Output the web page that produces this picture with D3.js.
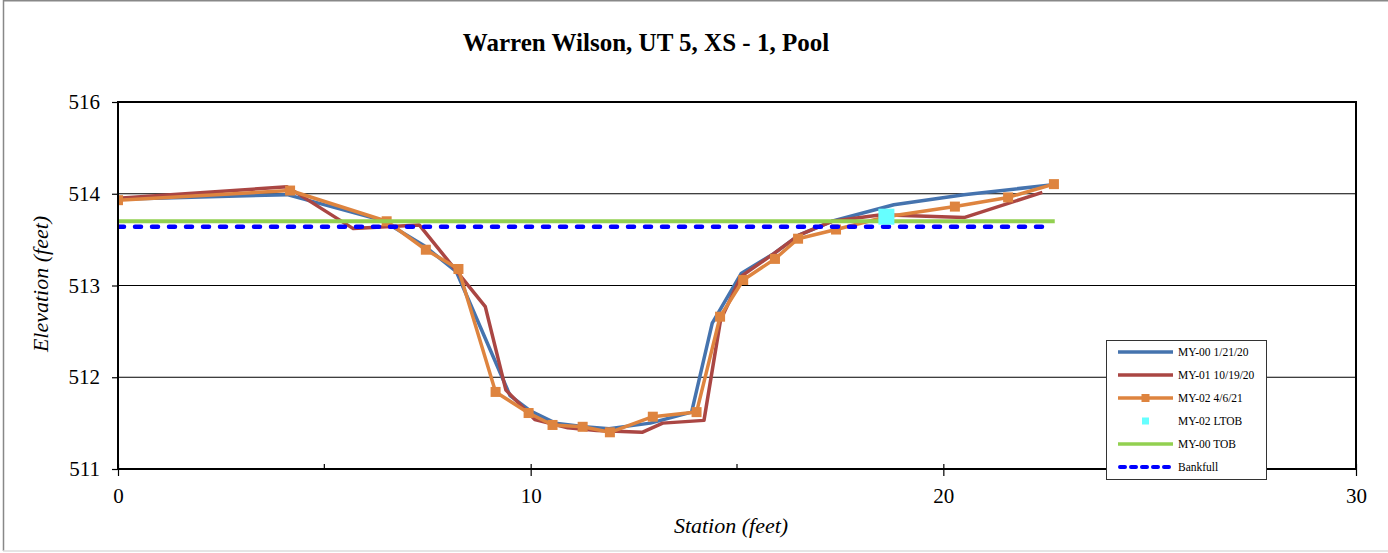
<!DOCTYPE html>
<html>
<head>
<meta charset="utf-8">
<script src="https://cdn.jsdelivr.net/npm/d3@7"></script>
<style>
  html, body { margin: 0; padding: 0; background: #fff; }
  svg { display: block; }
</style>
</head>
<body>
<svg id="chart" width="1388" height="553"></svg>
<script>
// ---------- data ----------
const title = "Warren Wilson, UT 5, XS - 1, Pool";
const xLabel = "Station (feet)";
const yLabel = "Elevation (feet)";

const xTicks = [0, 10, 20, 30];
const xMinorTicks = [5, 15, 25];
const yTicks = [511, 512, 513, 514, 516];
const yTickLabels = ["511", "512", "513", "514", "516"];

// MY-00 1/21/20
const my00Station = [0, 4.1, 6.4, 7.4, 8.2, 9.5, 10.0, 10.6, 11.3, 11.9, 12.9, 13.9, 14.4, 15.1, 15.9, 16.5, 17.3, 18.8, 20.5, 22.6];
const my00Elev    = [513.94, 513.99, 513.71, 513.44, 513.15, 511.80, 511.63, 511.50, 511.46, 511.44, 511.50, 511.62, 512.59, 513.13, 513.35, 513.55, 513.70, 513.88, 513.99, 514.19];

// MY-01 10/19/20
const my01Station = [0, 4.1, 5.7, 7.3, 8.9, 9.4, 10.1, 10.9, 11.6, 12.7, 13.2, 14.2, 14.6, 15.1, 15.9, 16.5, 17.3, 18.5, 20.5, 22.4];
const my01Elev    = [513.95, 514.15, 513.62, 513.66, 512.77, 511.86, 511.54, 511.45, 511.42, 511.40, 511.50, 511.53, 512.62, 513.10, 513.35, 513.55, 513.70, 513.77, 513.74, 514.03];

// MY-02 4/6/21
const my02Station = [0, 4.17, 6.51, 7.46, 8.25, 9.15, 9.95, 10.53, 11.26, 11.92, 12.96, 14.02, 14.59, 15.15, 15.92, 16.48, 17.4, 18.62, 20.28, 21.57, 22.68];
const my02Elev    = [513.93, 514.07, 513.70, 513.39, 513.18, 511.84, 511.61, 511.48, 511.46, 511.40, 511.57, 511.62, 512.66, 513.06, 513.29, 513.51, 513.61, 513.75, 513.86, 513.96, 514.21];

// MY-02 LTOB
const ltobStation = [18.62];
const ltobElev = [513.75];

// MY-00 TOB
const tobStation = [0, 22.7];
const tobElev = [513.70, 513.70];

// Bankfull
const bkfStation = [0, 22.6];
const bkfElev = [513.64, 513.64];

const legendLabels = ["MY-00 1/21/20", "MY-01 10/19/20", "MY-02 4/6/21", "MY-02 LTOB", "MY-00 TOB", "Bankfull"];

// ---------- styles ----------
const FONT = "'Liberation Serif', 'Times New Roman', Times, serif";
const C = {
  blue: "#4573AE", red: "#AA4643", orange: "#DE843F",
  cyan: "#66FFFF", green: "#92D050", bkf: "#0000FF"
};

const svg = d3.select("#chart");
const W = 1388;
const plot = { left: 118, right: 1356, top: 102, bottom: 469 };

// outer border
svg.append("line").attr("x1", 3.5).attr("x2", 3.5).attr("y1", 0).attr("y2", 551)
  .attr("stroke", "#888").attr("stroke-width", 1.5);
svg.append("line").attr("x1", 3).attr("x2", W).attr("y1", 0.75).attr("y2", 0.75)
  .attr("stroke", "#888").attr("stroke-width", 1.5);
svg.append("line").attr("x1", 3).attr("x2", W).attr("y1", 551).attr("y2", 551)
  .attr("stroke", "#ddd").attr("stroke-width", 1.5);

const x = d3.scaleLinear().domain([0, 30]).range([plot.left, plot.right]);
// polylinear scale reproducing the evenly spaced labelled gridlines
const y = d3.scaleLinear().domain(yTicks)
  .range(yTicks.map((d, i) => plot.bottom - i * (plot.bottom - plot.top) / (yTicks.length - 1)));

// gridlines
svg.append("g").selectAll("line").data(yTicks.slice(1, -1)).join("line")
  .attr("x1", plot.left).attr("x2", plot.right)
  .attr("y1", d => y(d)).attr("y2", d => y(d))
  .attr("stroke", "#000").attr("stroke-width", 1);

// clip
svg.append("clipPath").attr("id", "clip").append("rect")
  .attr("x", plot.left).attr("y", plot.top)
  .attr("width", plot.right - plot.left).attr("height", plot.bottom - plot.top);

const g = svg.append("g").attr("clip-path", "url(#clip)");
const zip = (xs, ys) => xs.map((s, i) => [s, ys[i]]);
const line = d3.line().x(d => x(d[0])).y(d => y(d[1]));

g.append("path").datum(zip(my00Station, my00Elev)).attr("d", line)
  .attr("fill", "none").attr("stroke", C.blue).attr("stroke-width", 3.5).attr("stroke-linejoin", "round");
g.append("path").datum(zip(my01Station, my01Elev)).attr("d", line)
  .attr("fill", "none").attr("stroke", C.red).attr("stroke-width", 3.5).attr("stroke-linejoin", "round");
g.append("path").datum(zip(my02Station, my02Elev)).attr("d", line)
  .attr("fill", "none").attr("stroke", C.orange).attr("stroke-width", 3.5).attr("stroke-linejoin", "round");
g.append("g").selectAll("rect").data(zip(my02Station, my02Elev)).join("rect")
  .attr("x", d => x(d[0]) - 5).attr("y", d => y(d[1]) - 5)
  .attr("width", 10).attr("height", 10).attr("fill", C.orange);

g.append("path").datum(zip(tobStation, tobElev)).attr("d", line)
  .attr("fill", "none").attr("stroke", C.green).attr("stroke-width", 4);
g.append("path").datum(zip(bkfStation, bkfElev)).attr("d", line)
  .attr("fill", "none").attr("stroke", C.bkf).attr("stroke-width", 4.5)
  .attr("stroke-linecap", "round").attr("stroke-dasharray", "6,11");

g.append("g").selectAll("rect").data(zip(ltobStation, ltobElev)).join("rect")
  .attr("x", d => x(d[0]) - 8).attr("y", d => y(d[1]) - 8)
  .attr("width", 16).attr("height", 16).attr("fill", C.cyan);

// plot border
svg.append("rect").attr("x", plot.left).attr("y", plot.top)
  .attr("width", plot.right - plot.left).attr("height", plot.bottom - plot.top)
  .attr("fill", "none").attr("stroke", "#000").attr("stroke-width", 2);

// y axis
const yAxis = d3.axisLeft(y).tickValues(yTicks).tickSize(6).tickPadding(12)
  .tickFormat((d, i) => yTickLabels[i]);
const ya = svg.append("g").attr("transform", `translate(${plot.left},0)`).call(yAxis);
ya.attr("font-family", FONT);
ya.select(".domain").remove();
ya.selectAll("line").attr("stroke", "#000").attr("stroke-width", 1.2);
ya.selectAll("text").attr("font-size", 21).attr("font-family", FONT).attr("fill", "#000");

// x axis
const xAxis = d3.axisBottom(x).tickValues(xTicks).tickSize(7).tickPadding(12).tickFormat(d3.format("d"));
const xa = svg.append("g").attr("transform", `translate(0,${plot.bottom})`).call(xAxis);
xa.attr("font-family", FONT);
xa.select(".domain").remove();
xa.selectAll("line").attr("y1", -5).attr("stroke", "#000").attr("stroke-width", 1.2);
xa.selectAll("text").attr("font-size", 21).attr("font-family", FONT).attr("fill", "#000");
svg.append("g").selectAll("line").data(xMinorTicks).join("line")
  .attr("x1", d => x(d)).attr("x2", d => x(d))
  .attr("y1", plot.bottom - 5).attr("y2", plot.bottom)
  .attr("stroke", "#000").attr("stroke-width", 1.2);

// titles
svg.append("text").attr("x", 646).attr("y", 51).attr("text-anchor", "middle")
  .attr("font-family", FONT).attr("font-size", 25).attr("font-weight", "bold").text(title);
svg.append("text").attr("x", 731).attr("y", 533).attr("text-anchor", "middle")
  .attr("font-family", FONT).attr("font-size", 22).attr("font-style", "italic").text(xLabel);
svg.append("text").attr("transform", "translate(48,284) rotate(-90)").attr("text-anchor", "middle")
  .attr("font-family", FONT).attr("font-size", 22).attr("font-style", "italic").text(yLabel);

// legend
const lg = svg.append("g");
lg.append("rect").attr("x", 1106.5).attr("y", 340.5).attr("width", 160).attr("height", 139)
  .attr("fill", "#fff").attr("stroke", "#333").attr("stroke-width", 1);
const legendY = d3.scalePoint().domain(legendLabels).range([352, 467]);
const ls = [
  { c: C.blue, type: "line" }, { c: C.red, type: "line" }, { c: C.orange, type: "marker" },
  { c: C.cyan, type: "point" }, { c: C.green, type: "line" }, { c: C.bkf, type: "dash" }
];
legendLabels.forEach((lab, i) => {
  const yy = legendY(lab);
  const s = ls[i];
  if (s.type === "dash") {
    lg.append("line").attr("x1", 1120).attr("x2", 1171).attr("y1", yy).attr("y2", yy)
      .attr("stroke", s.c).attr("stroke-width", 4)
      .attr("stroke-linecap", "round").attr("stroke-dasharray", "5,6");
  } else if (s.type !== "point") {
    lg.append("line").attr("x1", 1118).attr("x2", 1173).attr("y1", yy).attr("y2", yy)
      .attr("stroke", s.c).attr("stroke-width", 3.5);
  }
  if (s.type === "marker") {
    lg.append("rect").attr("x", 1141.5).attr("y", yy - 4).attr("width", 8).attr("height", 8).attr("fill", s.c);
  }
  if (s.type === "point") {
    lg.append("rect").attr("x", 1142).attr("y", yy - 3.5).attr("width", 7).attr("height", 7).attr("fill", s.c);
  }
  lg.append("text").attr("x", 1178).attr("y", yy + 4).attr("font-family", FONT)
    .attr("font-size", 11.5).text(lab);
});
</script>
</body>
</html>
